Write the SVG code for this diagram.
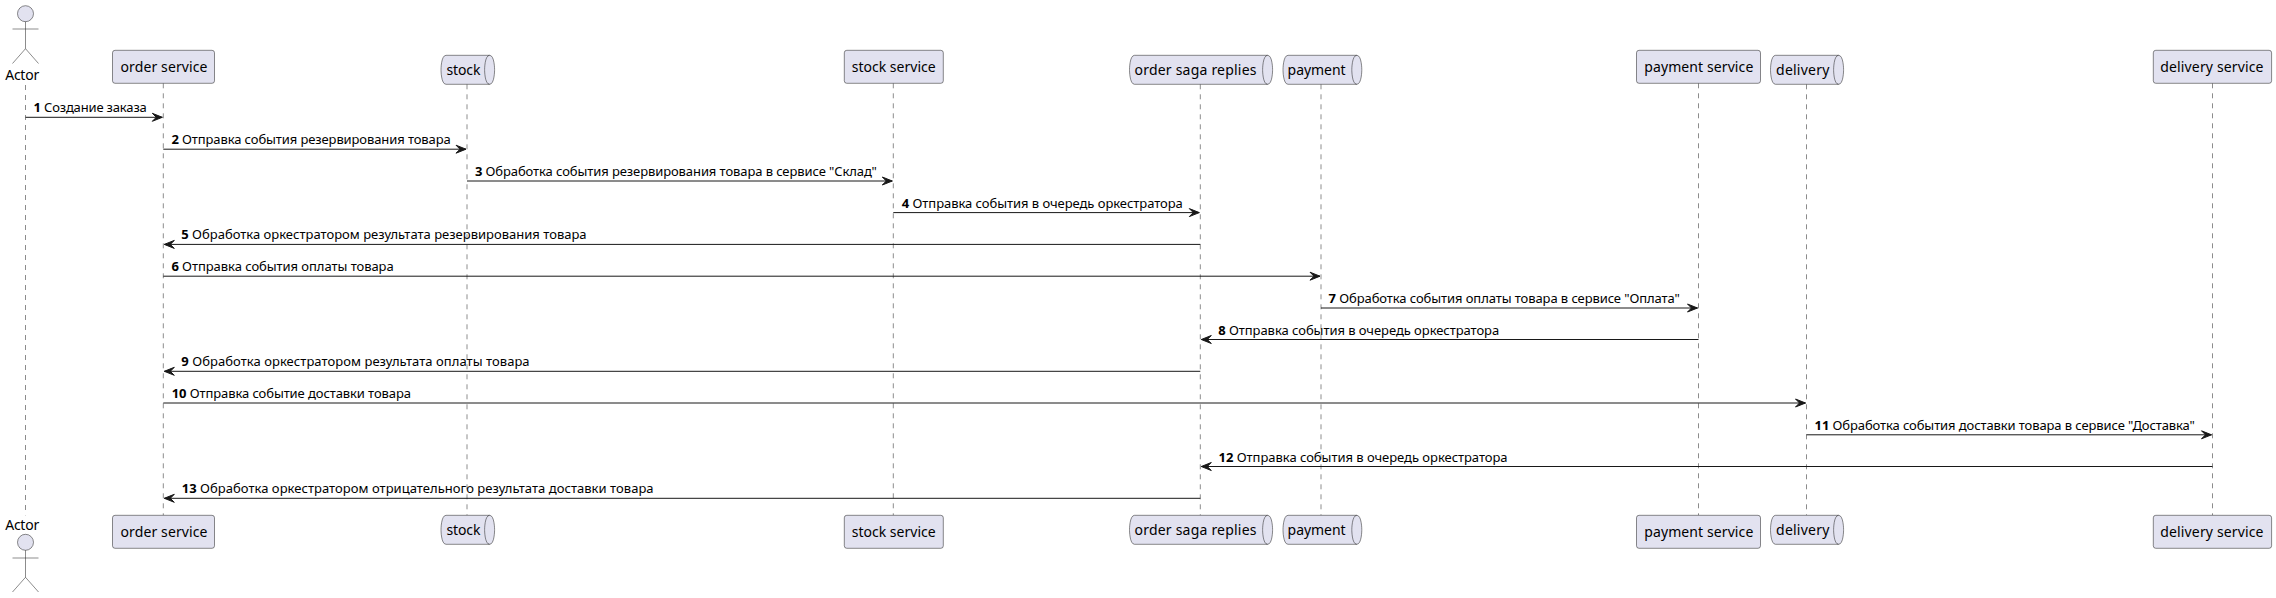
<svg xmlns="http://www.w3.org/2000/svg" width="2276" height="598" viewBox="0 0 2276 598">
<defs>
<style>
text{font-family:"Noto Sans","Open Sans",sans-serif;fill:#000}
.h{font-size:14px;text-anchor:middle}
.m{font-size:13px}
.m tspan{font-weight:700}
.b{fill:#E2E2F0;stroke:#181818;stroke-width:.5}
.n{fill:none;stroke:#181818;stroke-width:.5}
.l{stroke:#181818;stroke-width:.5;stroke-dasharray:5,5}
.c{stroke:#181818;stroke-width:1}
.a{fill:#181818;stroke:#181818;stroke-width:1}
</style>
<polygon id="ar" class="a" points="-10,-4 0,0 -10,4 -6,0"/>
<polygon id="al" class="a" points="10,-4 0,0 10,4 6,0"/>
</defs>
<g id="lifelines">
<line class="l" x1="25.5" y1="85" x2="25.5" y2="515.3"/>
<line class="l" x1="163.3" y1="83.3" x2="163.3" y2="515.3"/>
<line class="l" x1="467" y1="84.3" x2="467" y2="515.3"/>
<line class="l" x1="893.3" y1="83.3" x2="893.3" y2="515.3"/>
<line class="l" x1="1200.3" y1="84.3" x2="1200.3" y2="515.3"/>
<line class="l" x1="1321" y1="84.3" x2="1321" y2="515.3"/>
<line class="l" x1="1698.5" y1="83.3" x2="1698.5" y2="515.3"/>
<line class="l" x1="1806.5" y1="84.3" x2="1806.5" y2="515.3"/>
<line class="l" x1="2212.5" y1="83.3" x2="2212.5" y2="515.3"/>
</g>
<g id="connectors">
<line class="c" x1="25.5" y1="117.3" x2="162.3" y2="117.3"/><use href="#ar" x="162.3" y="117.3"/>
<line class="c" x1="163.3" y1="149.2" x2="466" y2="149.2"/><use href="#ar" x="466" y="149.2"/>
<line class="c" x1="467" y1="181" x2="892.3" y2="181"/><use href="#ar" x="892.3" y="181"/>
<line class="c" x1="893.3" y1="212.6" x2="1199.3" y2="212.6"/><use href="#ar" x="1199.3" y="212.6"/>
<line class="c" x1="1200.3" y1="244.4" x2="164.3" y2="244.4"/><use href="#al" x="164.3" y="244.4"/>
<line class="c" x1="163.3" y1="276.2" x2="1320" y2="276.2"/><use href="#ar" x="1320" y="276.2"/>
<line class="c" x1="1321" y1="308" x2="1697.5" y2="308"/><use href="#ar" x="1697.5" y="308"/>
<line class="c" x1="1698.5" y1="339.5" x2="1201.3" y2="339.5"/><use href="#al" x="1201.3" y="339.5"/>
<line class="c" x1="1200.3" y1="371.3" x2="164.3" y2="371.3"/><use href="#al" x="164.3" y="371.3"/>
<line class="c" x1="163.3" y1="403" x2="1805.5" y2="403"/><use href="#ar" x="1805.5" y="403"/>
<line class="c" x1="1806.5" y1="434.8" x2="2211.5" y2="434.8"/><use href="#ar" x="2211.5" y="434.8"/>
<line class="c" x1="2212.5" y1="466.5" x2="1201.3" y2="466.5"/><use href="#al" x="1201.3" y="466.5"/>
<line class="c" x1="1200.3" y1="498.3" x2="164.3" y2="498.3"/><use href="#al" x="164.3" y="498.3"/>
</g>
<g id="labels">
<text class="m" x="33.5" y="112.3" textLength="113.3"><tspan>1</tspan> Создание заказа</text>
<text class="m" x="171.4" y="144.2" textLength="279.3"><tspan>2</tspan> Отправка события резервирования товара</text>
<text class="m" x="474.9" y="176" textLength="402"><tspan>3</tspan> Обработка события резервирования товара в сервисе "Склад"</text>
<text class="m" x="901.8" y="207.6" textLength="281"><tspan>4</tspan> Отправка события в очередь оркестратора</text>
<text class="m" x="181.3" y="239.4" textLength="405.3"><tspan>5</tspan> Обработка оркестратором результата резервирования товара</text>
<text class="m" x="171.4" y="271.2" textLength="222.3"><tspan>6</tspan> Отправка события оплаты товара</text>
<text class="m" x="1328.6" y="303" textLength="351.3"><tspan>7</tspan> Обработка события оплаты товара в сервисе "Оплата"</text>
<text class="m" x="1218.2" y="334.5" textLength="281"><tspan>8</tspan> Отправка события в очередь оркестратора</text>
<text class="m" x="181.3" y="366.3" textLength="348.3"><tspan>9</tspan> Обработка оркестратором результата оплаты товара</text>
<text class="m" x="171.7" y="398" textLength="239.3"><tspan>10</tspan> Отправка событие доставки товара</text>
<text class="m" x="1814.6" y="429.8" textLength="380.3"><tspan>11</tspan> Обработка события доставки товара в сервисе "Доставка"</text>
<text class="m" x="1218.6" y="461.5" textLength="289"><tspan>12</tspan> Отправка события в очередь оркестратора</text>
<text class="m" x="181.7" y="493.3" textLength="471.9"><tspan>13</tspan> Обработка оркестратором отрицательного результата доставки товара</text>
</g>
<g id="actor-top">
<circle class="b" cx="25.5" cy="13.7" r="8"/>
<path class="n" d="M25.5,21.7V48.7M12.5,29H38.5M25.5,48.7L12.5,63.5M25.5,48.7L38.5,63.5"/>
<text class="h" x="22.2" y="80" textLength="34">Actor</text>
</g>
<g id="actor-bottom">
<text class="h" x="22.2" y="530" textLength="34">Actor</text>
<circle class="b" cx="25.5" cy="542.3" r="8"/>
<path class="n" d="M25.5,550.3V577.3M12.5,558H38.5M25.5,577.3L12.5,592M25.5,577.3L38.5,592"/>
</g>
<g id="order-service-top"><rect class="b" x="112.5" y="50.3" width="102" height="33" rx="2.5"/><text class="h" x="164" y="72.3" textLength="87">order service</text></g>
<g id="order-service-bottom"><rect class="b" x="112.5" y="515.3" width="102" height="33" rx="2.5"/><text class="h" x="164" y="537.3" textLength="87">order service</text></g>
<g id="stock-service-top"><rect class="b" x="844.3" y="50.3" width="99" height="33" rx="2.5"/><text class="h" x="893.7" y="72.3" textLength="84">stock service</text></g>
<g id="stock-service-bottom"><rect class="b" x="844.3" y="515.3" width="99" height="33" rx="2.5"/><text class="h" x="893.7" y="537.3" textLength="84">stock service</text></g>
<g id="payment-service-top"><rect class="b" x="1636.5" y="50.3" width="124" height="33" rx="2.5"/><text class="h" x="1698.8" y="72.3" textLength="109">payment service</text></g>
<g id="payment-service-bottom"><rect class="b" x="1636.5" y="515.3" width="124" height="33" rx="2.5"/><text class="h" x="1698.8" y="537.3" textLength="109">payment service</text></g>
<g id="delivery-service-top"><rect class="b" x="2153.3" y="50.3" width="118.3" height="33" rx="2.5"/><text class="h" x="2211.9" y="72.3" textLength="103.2">delivery service</text></g>
<g id="delivery-service-bottom"><rect class="b" x="2153.3" y="515.3" width="118.3" height="33" rx="2.5"/><text class="h" x="2211.9" y="537.3" textLength="103.2">delivery service</text></g>
<g id="stock-top"><path class="b" d="M446,55.3H489.6C494.6,55.3 494.6,69.8 494.6,69.8C494.6,69.8 494.6,84.3 489.6,84.3H446C441,84.3 441,69.8 441,69.8C441,69.8 441,55.3 446,55.3Z"/><path class="n" d="M489.6,55.3C484.6,55.3 484.6,69.8 484.6,69.8C484.6,69.8 484.6,84.3 489.6,84.3"/><text class="h" x="463.4" y="75" textLength="34">stock</text></g>
<g id="stock-bottom"><path class="b" d="M446,515.3H489.6C494.6,515.3 494.6,529.8 494.6,529.8C494.6,529.8 494.6,544.3 489.6,544.3H446C441,544.3 441,529.8 441,529.8C441,529.8 441,515.3 446,515.3Z"/><path class="n" d="M489.6,515.3C484.6,515.3 484.6,529.8 484.6,529.8C484.6,529.8 484.6,544.3 489.6,544.3"/><text class="h" x="463.4" y="535" textLength="34">stock</text></g>
<g id="order-saga-replies-top"><path class="b" d="M1134.5,55.3H1267.6C1272.6,55.3 1272.6,69.8 1272.6,69.8C1272.6,69.8 1272.6,84.3 1267.6,84.3H1134.5C1129.5,84.3 1129.5,69.8 1129.5,69.8C1129.5,69.8 1129.5,55.3 1134.5,55.3Z"/><path class="n" d="M1267.6,55.3C1262.6,55.3 1262.6,69.8 1262.6,69.8C1262.6,69.8 1262.6,84.3 1267.6,84.3"/><text class="h" x="1195.5" y="75" textLength="122">order saga replies</text></g>
<g id="order-saga-replies-bottom"><path class="b" d="M1134.5,515.3H1267.6C1272.6,515.3 1272.6,529.8 1272.6,529.8C1272.6,529.8 1272.6,544.3 1267.6,544.3H1134.5C1129.5,544.3 1129.5,529.8 1129.5,529.8C1129.5,529.8 1129.5,515.3 1134.5,515.3Z"/><path class="n" d="M1267.6,515.3C1262.6,515.3 1262.6,529.8 1262.6,529.8C1262.6,529.8 1262.6,544.3 1267.6,544.3"/><text class="h" x="1195.5" y="535" textLength="122">order saga replies</text></g>
<g id="payment-top"><path class="b" d="M1288,55.3H1356.8C1361.8,55.3 1361.8,69.8 1361.8,69.8C1361.8,69.8 1361.8,84.3 1356.8,84.3H1288C1283,84.3 1283,69.8 1283,69.8C1283,69.8 1283,55.3 1288,55.3Z"/><path class="n" d="M1356.8,55.3C1351.8,55.3 1351.8,69.8 1351.8,69.8C1351.8,69.8 1351.8,84.3 1356.8,84.3"/><text class="h" x="1316.6" y="75" textLength="58">payment</text></g>
<g id="payment-bottom"><path class="b" d="M1288,515.3H1356.8C1361.8,515.3 1361.8,529.8 1361.8,529.8C1361.8,529.8 1361.8,544.3 1356.8,544.3H1288C1283,544.3 1283,529.8 1283,529.8C1283,529.8 1283,515.3 1288,515.3Z"/><path class="n" d="M1356.8,515.3C1351.8,515.3 1351.8,529.8 1351.8,529.8C1351.8,529.8 1351.8,544.3 1356.8,544.3"/><text class="h" x="1316.6" y="535" textLength="58">payment</text></g>
<g id="delivery-top"><path class="b" d="M1775.5,55.3H1838.6C1843.6,55.3 1843.6,69.8 1843.6,69.8C1843.6,69.8 1843.6,84.3 1838.6,84.3H1775.5C1770.5,84.3 1770.5,69.8 1770.5,69.8C1770.5,69.8 1770.5,55.3 1775.5,55.3Z"/><path class="n" d="M1838.6,55.3C1833.6,55.3 1833.6,69.8 1833.6,69.8C1833.6,69.8 1833.6,84.3 1838.6,84.3"/><text class="h" x="1802.7" y="75" textLength="53.3">delivery</text></g>
<g id="delivery-bottom"><path class="b" d="M1775.5,515.3H1838.6C1843.6,515.3 1843.6,529.8 1843.6,529.8C1843.6,529.8 1843.6,544.3 1838.6,544.3H1775.5C1770.5,544.3 1770.5,529.8 1770.5,529.8C1770.5,529.8 1770.5,515.3 1775.5,515.3Z"/><path class="n" d="M1838.6,515.3C1833.6,515.3 1833.6,529.8 1833.6,529.8C1833.6,529.8 1833.6,544.3 1838.6,544.3"/><text class="h" x="1802.7" y="535" textLength="53.3">delivery</text></g>
</svg>
